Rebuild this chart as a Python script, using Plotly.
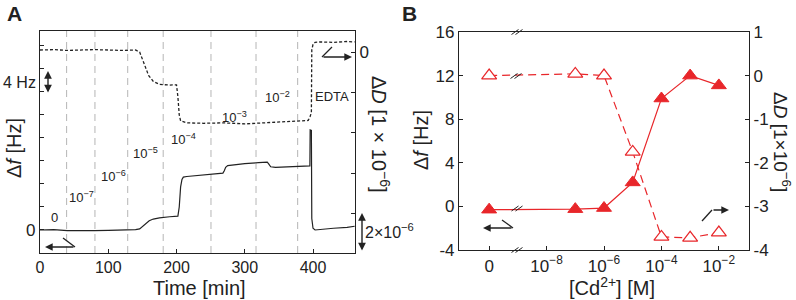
import plotly.graph_objects as go

W, H = 796, 300

# ---------------- Panel A data ----------------
time_f = [0, 20, 40, 60, 80, 100, 120, 140, 146, 150, 155, 160, 166, 175, 190, 202,
          204, 206, 208, 210, 215, 230, 250, 268, 270, 272, 275, 285, 300, 320, 333,
          335, 338, 345, 360, 380, 395.4, 395.8, 397.6, 398.2, 400, 403, 410, 430, 450, 461]
delta_f = [0.0, 0.05, -0.1, -0.15, -0.1, -0.05, 0.0, 0.05, 0.2, 0.6, 1.2, 1.6, 1.9, 2.1, 2.3, 2.4,
           4.0, 7.5, 8.8, 9.2, 9.3, 9.5, 9.7, 9.9, 10.3, 10.9, 11.2, 11.35, 11.55, 11.7, 11.8,
           11.5, 11.0, 10.9, 11.0, 11.1, 11.15, 17.4, 17.3, 2.0, 0.3, 0.0, 0.1, 0.3, 0.45, 0.65]

time_d = [0, 20, 40, 60, 80, 100, 120, 140, 146, 150, 154, 159, 166, 175, 190, 200,
          202, 204, 206, 215, 240, 270, 300, 330, 360, 380, 393, 395.6, 397.6, 398.2,
          400, 403, 410, 430, 450, 461]
delta_D = [0.1, 0.12, 0.08, 0.1, 0.12, 0.1, 0.08, 0.1, 0.0, -0.35, -0.75, -1.15, -1.45, -1.6, -1.63, -1.62,
           -2.2, -3.1, -3.4, -3.5, -3.52, -3.5, -3.55, -3.5, -3.45, -3.42, -3.38, -3.2, -3.0, 0.1,
           0.38, 0.48, 0.5, 0.48, 0.52, 0.5]

injection_times = [39, 80.5, 128.5, 180.5, 250.5, 316.5, 377.5]
time_ticks = [0, 100, 200, 300, 400]

# concentration labels: text, pixel position (x, y)
conc_labels = ["0", "10<sup>−7</sup>", "10<sup>−6</sup>", "10<sup>−5</sup>",
               "10<sup>−4</sup>", "10<sup>−3</sup>", "10<sup>−2</sup>", "EDTA"]
conc_label_px = [(55, 217), (81, 197), (113, 176), (145, 153), (183, 139),
                 (235, 117), (277, 97), (332, 97)]

# ---------------- Panel B data ----------------
cd_conc = [1e-10, 1e-7, 1e-6, 1e-5, 1e-4, 1e-3, 1e-2]   # "0" drawn at the break position
df_B = [-0.3, -0.25, -0.15, 2.2, 9.9, 12.0, 11.1]
dD_B = [0.0, 0.04, 0.0, -1.75, -3.7, -3.72, -3.6]
cd_tickvals = [1e-10, 1e-8, 1e-6, 1e-4, 1e-2]
cd_ticktext = ["0", "10<sup>−8</sup>", "10<sup>−6</sup>", "10<sup>−4</sup>", "10<sup>−2</sup>"]
dfB_ticks = [-4, 0, 4, 8, 12, 16]
dDB_ticks = [-4, -3, -2, -1, 0, 1]

BLACK = "#222222"
RED = "#e8262a"
FONT = "Liberation Sans, Arial, sans-serif"


def px(x, y):
    return x / W, 1 - y / H


fig = go.Figure()

# Panel A traces
fig.add_trace(go.Scatter(x=time_f, y=delta_f, mode="lines", xaxis="x", yaxis="y",
                         line=dict(color=BLACK, width=1.2), showlegend=False))
fig.add_trace(go.Scatter(x=time_d, y=delta_D, mode="lines", xaxis="x", yaxis="y2",
                         line=dict(color=BLACK, width=1.3, dash="3px,2px"), showlegend=False))

# Panel B traces
fig.add_trace(go.Scatter(x=cd_conc, y=df_B, mode="lines+markers", xaxis="x2", yaxis="y3",
                         line=dict(color=RED, width=1.2),
                         marker=dict(symbol="triangle-up", size=13, color=RED,
                                     line=dict(color=RED, width=1)),
                         showlegend=False))
fig.add_trace(go.Scatter(x=cd_conc, y=dD_B, mode="lines+markers", xaxis="x2", yaxis="y4",
                         line=dict(color=RED, width=1.2, dash="8px,5px"),
                         marker=dict(symbol="triangle-up", size=13, color="white",
                                     line=dict(color=RED, width=1.2)),
                         showlegend=False))

axis_common = dict(showgrid=False, zeroline=False, showline=True, linecolor=BLACK,
                   linewidth=1.2, ticks="inside", ticklen=4, tickcolor=BLACK, automargin=False,
                   tickfont=dict(family=FONT, size=17, color=BLACK))

shapes = []
annotations = []

# injection dashed gray lines
for t in injection_times:
    shapes.append(dict(type="line", xref="x", yref="y domain", x0=t, x1=t, y0=0, y1=1,
                       line=dict(color="#b5b5b5", width=1, dash="7px,5px"), layer="below"))


def seg(x0, y0, x1, y1, w=1.3, color=BLACK):
    a, b = px(x0, y0)
    c, d = px(x1, y1)
    shapes.append(dict(type="line", xref="paper", yref="paper", x0=a, y0=b, x1=c, y1=d,
                       line=dict(color=color, width=w)))


def arrow(hx, hy, tx, ty, both=False):
    a, b = px(hx, hy)
    annotations.append(dict(x=a, y=b, xref="paper", yref="paper", ax=tx - hx, ay=ty - hy,
                            text="", showarrow=True, arrowhead=2, arrowsize=1.1,
                            arrowwidth=1.4, arrowcolor=BLACK,
                            arrowside="end+start" if both else "end", startarrowhead=2,
                            startarrowsize=1.1))


def label(x, y, text, size=16, angle=0, bold=False, xanchor="center"):
    a, b = px(x, y)
    if bold:
        text = "<b>" + text + "</b>"
    annotations.append(dict(x=a, y=b, xref="paper", yref="paper", text=text, showarrow=False,
                            textangle=angle, xanchor=xanchor, yanchor="middle",
                            font=dict(family=FONT, size=size, color=BLACK)))


# Panel A decorations
arrow(45, 247, 75, 247)
seg(75, 247, 63, 238)
arrow(352, 57, 322, 57)
seg(322, 57, 332, 47)
arrow(48, 71, 48, 94, both=True)
label(19, 82, "4 Hz", 16)
arrow(362, 213, 362, 252, both=True)
label(389, 231, "2×10<sup>−6</sup>", 16)
for txt, (lx, ly) in zip(conc_labels, conc_label_px):
    label(lx, ly, txt, 13)

# Panel B decorations
arrow(483, 228, 513, 228)
seg(513, 228, 502, 220)
arrow(729, 210, 712, 210)
seg(712, 210, 702, 221)
for bx, by in [(517, 32), (517, 250), (516, 76), (517, 208.5)]:
    for off in (-2, 2):
        seg(bx + off - 3.5, by + 2.5, bx + off + 3.5, by - 2.5, w=1)

# titles & letters
label(14, 13, "A", 21, bold=True)
label(410, 13, "B", 21, bold=True)
label(14, 148, "Δ<i>f</i> [Hz]", 20, angle=-90)
label(381, 134, "Δ<i>D</i> [1 × 10<sup>−6</sup>]", 20, angle=90)
label(200, 288, "Time [min]", 20)
label(421, 140, "Δ<i>f</i> [Hz]", 20, angle=-90)
label(782, 142, "Δ<i>D</i> [1×10<sup>−6</sup>]", 19, angle=90)
label(612, 286, "[Cd<sup>2+</sup>] [M]", 20)

xa_common = dict(axis_common)
xa_common["tickfont"] = dict(family=FONT, size=16, color=BLACK)

fig.update_layout(
    template="none",
    width=W, height=H, margin=dict(l=0, r=0, t=0, b=0, autoexpand=False),
    paper_bgcolor="white", plot_bgcolor="white", showlegend=False,
    xaxis=dict(domain=[40 / W, 355 / W], range=[0, 461.5], anchor="y", mirror=True,
               tickvals=time_ticks, **xa_common),
    yaxis=dict(domain=[47 / H, 269 / H], range=[-4, 34.6], anchor="x",
               tickvals=[0], ticktext=["0"],
               minor=dict(ticks="inside", ticklen=4, tick0=0, dtick=4, tickcolor=BLACK,
                          showgrid=False),
               **axis_common),
    yaxis2=dict(overlaying="y", side="right", anchor="x", range=[-9.93, 1.04],
                tickvals=[0], ticktext=["0"],
                minor=dict(ticks="inside", ticklen=4, tick0=0, dtick=2, tickcolor=BLACK,
                           showgrid=False),
                **axis_common),
    xaxis2=dict(domain=[459 / W, 749 / W], type="log", range=[-11.05, -0.95], anchor="y3",
                mirror=True, tickvals=cd_tickvals, ticktext=cd_ticktext, **axis_common),
    yaxis3=dict(domain=[50 / H, 268 / H], range=[-4, 16], anchor="x2",
                tickvals=dfB_ticks, ticktext=[str(v) for v in dfB_ticks], **axis_common),
    yaxis4=dict(overlaying="y3", side="right", anchor="x2", range=[-4, 1],
                tickvals=dDB_ticks, ticktext=[str(v) for v in dDB_ticks], **axis_common),
    shapes=shapes, annotations=annotations,
)

fig.write_html("out.html", config={"displayModeBar": False},
               post_script="document.body.style.margin='0';document.body.style.padding='0';")
